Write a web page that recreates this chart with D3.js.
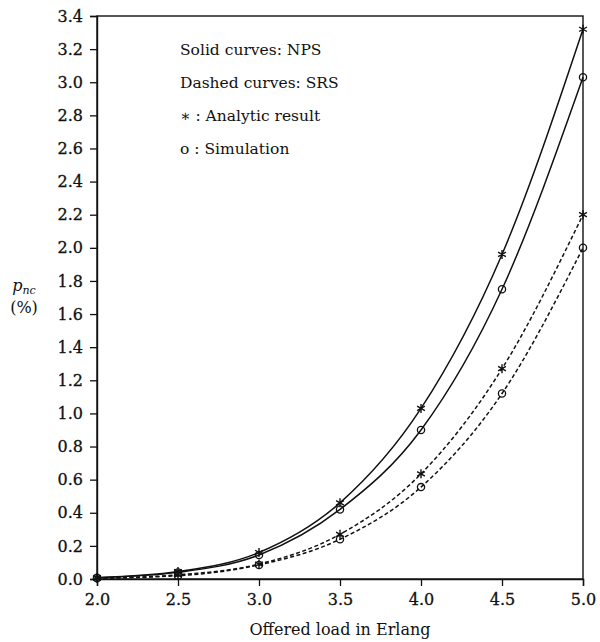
<!DOCTYPE html>
<html>
<head>
<meta charset="utf-8">
<script src="https://cdn.jsdelivr.net/npm/d3@7"></script>
<style>
  body { margin: 0; background: #fff; }
  text { font-family: "DejaVu Serif", "Liberation Serif", serif; fill: #111; }
</style>
</head>
<body>
<div id="chart"></div>
<script>
// offered load (Erlang) and p_nc (%)
const loads = [2.0, 2.5, 3.0, 3.5, 4.0, 4.5, 5.0];
const npsAnalytic = [0.008, 0.045, 0.16, 0.46, 1.03, 1.96, 3.32];
const npsSim = [0.008, 0.04, 0.145, 0.42, 0.90, 1.75, 3.03];
const srsAnalytic = [0.005, 0.025, 0.09, 0.27, 0.635, 1.27, 2.2];
const srsSim = [0.005, 0.02, 0.085, 0.24, 0.555, 1.12, 2.0];
const xTicks = [2.0, 2.5, 3.0, 3.5, 4.0, 4.5, 5.0];
const yTicks = d3.range(0, 3.41, 0.2);
const legendLines = ["Solid curves: NPS", "Dashed curves: SRS", "\u2217 : Analytic result", "o : Simulation"];

const W = 600, H = 642;
const margin = { top: 16, right: 17, bottom: 63, left: 97 };

const svg = d3.select("#chart")
    .append("svg")
    .attr("width", W)
    .attr("height", H);

const x = d3.scaleLinear().domain([2, 5]).range([margin.left, W - margin.right]);
const y = d3.scaleLinear().domain([0, 3.4]).range([H - margin.bottom, margin.top]);

// frame
svg.append("rect")
    .attr("x", x(2)).attr("y", y(3.4))
    .attr("width", x(5) - x(2)).attr("height", y(0) - y(3.4))
    .attr("fill", "none").attr("stroke", "#111").attr("stroke-width", 1.4);

// axes
const xAxis = svg.append("g")
    .attr("transform", `translate(0,${y(0)})`)
    .call(d3.axisBottom(x).tickValues(xTicks).tickFormat(d3.format(".1f")).tickSize(7).tickPadding(8));
const yAxis = svg.append("g")
    .attr("transform", `translate(${x(2)},0)`)
    .call(d3.axisLeft(y).tickValues(yTicks).tickFormat(d3.format(".1f")).tickSize(7).tickPadding(7));

[xAxis, yAxis].forEach(g => {
    g.select(".domain").attr("stroke", "#111").attr("stroke-width", 1.4);
    g.selectAll(".tick line").attr("stroke", "#111").attr("stroke-width", 1.3);
    g.selectAll(".tick text")
        .style("font-family", "'DejaVu Serif', serif")
        .style("font-size", "16px")
        .attr("fill", "#111")
        .attr("stroke", "#111")
        .attr("stroke-width", 0.3);
});

// curves
const line = d3.line()
    .x((d, i) => x(loads[i]))
    .y(d => y(d))
    .curve(d3.curveMonotoneX);

const series = [
    { values: npsAnalytic, dashed: false, marker: "star" },
    { values: npsSim, dashed: false, marker: "circle" },
    { values: srsAnalytic, dashed: true, marker: "star" },
    { values: srsSim, dashed: true, marker: "circle" }
];

series.forEach(s => {
    svg.append("path")
        .attr("d", line(s.values))
        .attr("fill", "none")
        .attr("stroke", "#111")
        .attr("stroke-width", 1.5)
        .attr("stroke-dasharray", s.dashed ? "4,2.5" : null);
});

// markers
const starPath = r => {
    const a = Math.cos(Math.PI / 6) * r, b = r / 2;
    return `M0,${-r}L0,${r}M${-a},${-b}L${a},${b}M${-a},${b}L${a},${-b}`;
};

series.forEach(s => {
    const g = svg.append("g");
    s.values.forEach((v, i) => {
        if (s.marker === "star") {
            g.append("path")
                .attr("transform", `translate(${x(loads[i])},${y(v)})`)
                .attr("d", starPath(4.5))
                .attr("stroke", "#111").attr("stroke-width", 1.4).attr("fill", "none");
        } else {
            g.append("circle")
                .attr("cx", x(loads[i])).attr("cy", y(v)).attr("r", 3.6)
                .attr("fill", "none").attr("stroke", "#111").attr("stroke-width", 1.3);
        }
    });
});

// legend text
svg.selectAll(".legend")
    .data(legendLines)
    .enter()
    .append("text")
    .attr("class", "legend")
    .attr("x", 180)
    .attr("y", (d, i) => y(3.2 - i * 0.2))
    .attr("dy", "0.35em")
    .style("font-size", "15.5px")
    .text(d => d);

// axis titles
svg.append("text")
    .attr("x", (x(2) + x(5)) / 2)
    .attr("y", 635)
    .attr("text-anchor", "middle")
    .style("font-size", "16px")
    .text("Offered load in Erlang");

const yt = svg.append("text")
    .attr("x", 24)
    .attr("y", 291)
    .attr("text-anchor", "middle")
    .style("font-size", "16px");
yt.append("tspan").style("font-style", "italic").text("p");
yt.append("tspan").style("font-style", "italic").style("font-size", "11px").attr("dy", 3).text("nc");

svg.append("text")
    .attr("x", 24)
    .attr("y", 313)
    .attr("text-anchor", "middle")
    .style("font-size", "16px")
    .text("(%)");
</script>
</body>
</html>
